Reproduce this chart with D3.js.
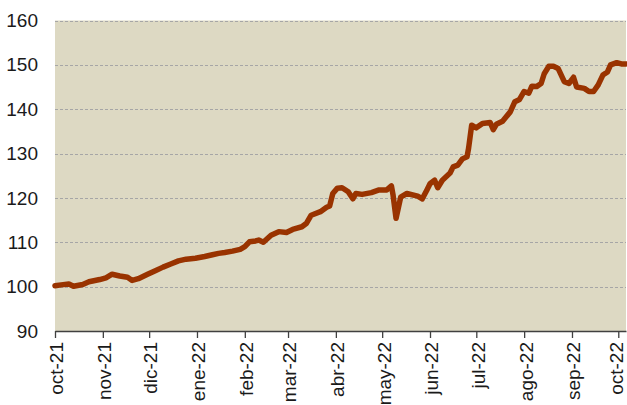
<!DOCTYPE html>
<html>
<head>
<meta charset="utf-8">
<script src="https://cdn.jsdelivr.net/npm/d3@7"></script>
<style>
  body { margin: 0; background: #ffffff; }
  svg { display: block; font-family: "Liberation Sans", Arial, sans-serif; }
</style>
</head>
<body>
<svg id="chart" width="627" height="405"></svg>
<script>
// Index series (base 100 = oct-21)
const dates = [
  "2021-10-01","2021-10-05","2021-10-10","2021-10-13","2021-10-19","2021-10-23","2021-10-30",
  "2021-11-03","2021-11-07","2021-11-12","2021-11-17","2021-11-20","2021-11-24","2021-11-30",
  "2021-12-05","2021-12-10","2021-12-15","2021-12-20","2021-12-25","2021-12-31",
  "2022-01-06","2022-01-11","2022-01-15","2022-01-19","2022-01-24","2022-01-29",
  "2022-02-01","2022-02-04","2022-02-08","2022-02-10","2022-02-13","2022-02-18","2022-02-23","2022-02-28",
  "2022-03-04","2022-03-10","2022-03-13","2022-03-16","2022-03-22","2022-03-26","2022-03-28","2022-03-30",
  "2022-04-02","2022-04-05","2022-04-09","2022-04-12","2022-04-14","2022-04-18","2022-04-24","2022-04-29",
  "2022-05-04","2022-05-07","2022-05-08","2022-05-10","2022-05-13","2022-05-17","2022-05-24","2022-05-27","2022-05-30",
  "2022-06-01","2022-06-04","2022-06-06","2022-06-09","2022-06-14","2022-06-16","2022-06-19","2022-06-22","2022-06-25","2022-06-26","2022-06-28",
  "2022-07-01","2022-07-05","2022-07-10","2022-07-12","2022-07-14","2022-07-18","2022-07-23","2022-07-26","2022-07-29",
  "2022-08-01","2022-08-04","2022-08-06","2022-08-09","2022-08-12","2022-08-14","2022-08-17","2022-08-20","2022-08-23","2022-08-27","2022-08-30",
  "2022-09-02","2022-09-04","2022-09-09","2022-09-12","2022-09-15","2022-09-18","2022-09-21","2022-09-24","2022-09-26","2022-09-30",
  "2022-10-03","2022-10-06"
];
const values = [
  100.2,100.4,100.6,100.1,100.5,101.1,101.6,
  102.0,102.8,102.4,102.1,101.4,101.8,102.8,
  103.6,104.4,105.1,105.8,106.2,106.4,
  106.8,107.2,107.5,107.7,108.0,108.4,
  109.0,110.1,110.3,110.5,110.0,111.6,112.4,112.2,
  112.9,113.5,114.3,116.1,116.9,117.9,118.2,121.0,
  122.2,122.3,121.4,119.8,121.0,120.8,121.2,121.8,
  121.8,122.7,120.8,115.4,120.2,121.0,120.4,119.8,121.8,
  123.2,124.0,122.3,124.0,125.6,127.0,127.4,128.8,129.3,131.2,136.4,
  135.8,136.8,137.0,135.4,136.6,137.3,139.4,141.7,142.2,
  144.0,143.6,145.2,145.1,145.8,148.0,149.7,149.7,149.2,146.2,145.8,
  147.2,145.0,144.7,144.0,144.0,145.5,147.7,148.4,150.0,150.5,
  150.2,150.2
];

// Axis ticks
const monthTicks = [
  "2021-10-01","2021-11-01","2021-12-01","2022-01-01","2022-02-01","2022-03-01","2022-04-01",
  "2022-05-01","2022-06-01","2022-07-01","2022-08-01","2022-09-01","2022-10-01"
];
const monthLabels = [
  "oct-21","nov-21","dic-21","ene-22","feb-22","mar-22","abr-22",
  "may-22","jun-22","jul-22","ago-22","sep-22","oct-22"
];
const yTicks = [90, 100, 110, 120, 130, 140, 150, 160];

const parse = d3.timeParse("%Y-%m-%d");
const series = dates.map((d, i) => ({ date: parse(d), value: values[i] }));
const tickDates = monthTicks.map(parse);

const W = 627;
const fontSize = 19;
const plot = { left: 55, right: 626, top: 20.5, bottom: 331 };
const svg = d3.select("#chart");

const x = d3.scaleTime()
  .domain([parse("2021-10-01"), parse("2022-10-06")])
  .range([plot.left, plot.right]);
const y = d3.scaleLinear()
  .domain([90, 160])
  .range([plot.bottom, plot.top]);

// Plot background
svg.append("rect")
  .attr("x", plot.left).attr("y", plot.top)
  .attr("width", plot.right - plot.left)
  .attr("height", plot.bottom - plot.top)
  .attr("fill", "#DDD9C3");

// Horizontal dashed gridlines
svg.append("g")
  .selectAll("line")
  .data(yTicks.filter(v => v > 90))
  .join("line")
  .attr("x1", plot.left).attr("x2", plot.right)
  .attr("y1", d => Math.round(y(d)) + 0.5).attr("y2", d => Math.round(y(d)) + 0.5)
  .attr("stroke", "#a6a6a6")
  .attr("stroke-width", 1)
  .attr("stroke-dasharray", "3,2");

// Y axis labels
const yAxis = svg.append("g")
  .attr("transform", `translate(${plot.left},0)`)
  .call(d3.axisLeft(y).tickValues(yTicks).tickSize(0).tickPadding(17));
yAxis.select(".domain").remove();
yAxis.selectAll("text")
  .attr("font-size", fontSize)
  .attr("font-family", "Liberation Sans, Arial, sans-serif")
  .attr("fill", "#1a1a1a");

// X axis with monthly ticks
const xAxis = svg.append("g")
  .attr("transform", `translate(0,${plot.bottom})`)
  .call(d3.axisBottom(x)
    .tickValues(tickDates)
    .tickSize(7)
    .tickSizeOuter(0)
    .tickFormat((d, i) => monthLabels[i]));
xAxis.select(".domain").attr("stroke", "#404040").attr("stroke-width", 1.3);
xAxis.selectAll(".tick line").attr("stroke", "#404040").attr("stroke-width", 1.3);
// Rotated labels; the last one is nudged left so it stays inside the page
xAxis.selectAll("text")
  .attr("font-size", fontSize)
  .attr("font-family", "Liberation Sans, Arial, sans-serif")
  .attr("fill", "#1a1a1a")
  .attr("transform", "rotate(-90)")
  .attr("text-anchor", "end")
  .attr("x", -11)
  .attr("y", d => Math.min(1.2, W - 0.6 * fontSize - x(d)))
  .attr("dy", "0.35em");

// Index line
const line = d3.line()
  .x(d => x(d.date))
  .y(d => y(d.value));
svg.append("path")
  .datum(series)
  .attr("d", line)
  .attr("fill", "none")
  .attr("stroke", "#993300")
  .attr("stroke-width", 5.5)
  .attr("stroke-linejoin", "round")
  .attr("stroke-linecap", "round");
</script>
</body>
</html>
